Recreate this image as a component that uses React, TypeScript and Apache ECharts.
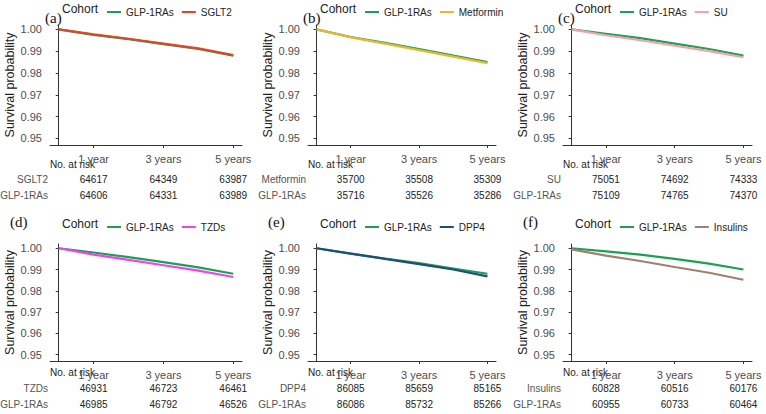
import React, { useEffect, useRef } from "react";
import * as echarts from "echarts";

const months = [0, 12, 24, 36, 48, 60];
const tickMonths = [12, 36, 60];
const tickLabels = ["1 year", "3 years", "5 years"];
const yTicks = [0.95, 0.96, 0.97, 0.98, 0.99, 1.0];

const panelLabels = ["(a)", "(b)", "(c)", "(d)", "(e)", "(f)"];
const comparators = ["SGLT2", "Metformin", "SU", "TZDs", "DPP4", "Insulins"];
const compColors = ["#e0452c", "#e8b830", "#f4a0b0", "#ee44ee", "#1f4e79", "#a08070"];
const glpColor = "#1f9e55";

const glpCurves = [
  [1, 0.9975, 0.9955, 0.9932, 0.991, 0.988],
  [1, 0.9965, 0.9938, 0.991, 0.988, 0.985],
  [1, 0.998, 0.996, 0.9935, 0.991, 0.988],
  [1, 0.998, 0.9958, 0.9935, 0.991, 0.988],
  [1, 0.9975, 0.9952, 0.993, 0.9905, 0.988],
  [1, 0.9985, 0.997, 0.995, 0.9928, 0.99],
];
const compCurves = [
  [1, 0.9977, 0.9957, 0.9935, 0.9913, 0.9882],
  [1, 0.9963, 0.9935, 0.9905, 0.9875, 0.9845],
  [1, 0.9973, 0.995, 0.9925, 0.99, 0.9872],
  [1, 0.997, 0.9945, 0.992, 0.9895, 0.9865],
  [1, 0.9975, 0.995, 0.9925, 0.99, 0.9868],
  [0.9995, 0.9965, 0.994, 0.9912, 0.9885, 0.9852],
];
const compRisk = [
  [64617, 64349, 63987],
  [35700, 35508, 35309],
  [75051, 74692, 74333],
  [46931, 46723, 46461],
  [86085, 85659, 85165],
  [60828, 60516, 60176],
];
const glpRisk = [
  [64606, 64331, 63989],
  [35716, 35526, 35286],
  [75109, 74765, 74370],
  [46985, 46792, 46526],
  [86086, 85732, 85266],
  [60955, 60733, 60464],
];

const colLeft = [50, 308, 563];
const colWidth = [192, 188, 189];
const rowTop = [25, 244];
const rowHeight = [120, 117];
const legendY = [2, 217];
const riskY = [[164, 179, 195], [372, 388, 404]];

export default function App() {
  const ref = useRef<HTMLDivElement>(null);
  useEffect(() => {
    const chart = echarts.init(ref.current!, null, { renderer: "svg" });
    const grids: any[] = [], xAxes: any[] = [], yAxes: any[] = [], series: any[] = [], legends: any[] = [];
    const graphics: any[] = [];
    for (let i = 0; i < 6; i++) {
      const r = Math.floor(i / 3), c = i % 3;
      grids.push({ left: colLeft[c], top: rowTop[r], width: colWidth[c], height: rowHeight[r] });
      xAxes.push({
        type: "value", gridIndex: i, min: -3, max: 63,
        axisLine: { show: true, lineStyle: { color: "#333", width: 1 } },
        axisTick: { show: true, customValues: tickMonths, length: 3, lineStyle: { color: "#333" } },
        axisLabel: { customValues: tickMonths, formatter: (v: number) => tickLabels[tickMonths.indexOf(v)] ?? "", color: "#4d4d4d", fontSize: 11, fontFamily: "Liberation Sans" },
        splitLine: { show: false },
      });
      yAxes.push({
        type: "value", gridIndex: i, min: 0.947, max: 1.002,
        name: "Survival probability", nameLocation: "middle", nameGap: 30,
        nameTextStyle: { fontSize: 12.5, color: "#222", fontFamily: "Liberation Sans" },
        axisLine: { show: true, lineStyle: { color: "#333", width: 1 } },
        axisTick: { show: true, customValues: yTicks, length: 3, lineStyle: { color: "#333" } },
        axisLabel: { customValues: yTicks, formatter: (v: number) => v.toFixed(2), color: "#4d4d4d", fontSize: 11, fontFamily: "Liberation Sans" },
        splitLine: { show: false },
      });
      const mk = (name: string, data: number[], color: string) => ({
        type: "line", name, xAxisIndex: i, yAxisIndex: i, showSymbol: false, smooth: false,
        data: months.map((m, k) => [m, data[k]]), lineStyle: { color, width: 2.2 }, itemStyle: { color },
      });
      series.push(mk("GLP-1RAs", glpCurves[i], glpColor));
      series.push(mk(comparators[i], compCurves[i], compColors[i]));
      legends.push({
        data: ["GLP-1RAs", comparators[i]], top: legendY[r], left: colLeft[c] + 52, width: 220,
        itemWidth: 14, itemHeight: 10, itemGap: 8, icon: "path://M0,4h14v2h-14z",
        textStyle: { fontSize: 10, color: "#222", fontFamily: "Liberation Sans" },
      });
      graphics.push({ type: "text", left: colLeft[c] + 12, top: legendY[r] + 1, style: { text: "Cohort", fontSize: 12, fill: "#222", fontFamily: "Liberation Sans" } });
      const lx = r === 0 ? colLeft[c] - 5 : colLeft[c] - 40;
      const ly = r === 0 ? 10 : 214;
      graphics.push({ type: "text", left: lx, top: ly, style: { text: panelLabels[i], fontSize: 15, fill: "#111", fontFamily: "Liberation Serif" } });
    }
    chart.setOption({ animation: false, grid: grids, xAxis: xAxes, yAxis: yAxes, series, legend: legends } as any);
    for (let i = 0; i < 6; i++) {
      const r = Math.floor(i / 3), c = i % 3;
      const ys = riskY[r];
      const ts = { fontSize: 10, fill: "#222", fontFamily: "Liberation Sans" };
      graphics.push({ type: "text", x: colLeft[c], y: ys[0], style: { ...ts, text: "No. at risk", textVerticalAlign: "middle" } });
      graphics.push({ type: "text", x: colLeft[c] - 2, y: ys[1], style: { ...ts, fill: "#555", text: comparators[i], textAlign: "right", textVerticalAlign: "middle" } });
      graphics.push({ type: "text", x: colLeft[c] - 2, y: ys[2], style: { ...ts, fill: "#555", text: "GLP-1RAs", textAlign: "right", textVerticalAlign: "middle" } });
      tickMonths.forEach((m, k) => {
        const px = chart.convertToPixel({ xAxisIndex: i } as any, m) as number;
        graphics.push({ type: "text", x: px, y: ys[1], style: { ...ts, text: String(compRisk[i][k]), textAlign: "center", textVerticalAlign: "middle" } });
        graphics.push({ type: "text", x: px, y: ys[2], style: { ...ts, text: String(glpRisk[i][k]), textAlign: "center", textVerticalAlign: "middle" } });
      });
    }
    chart.setOption({ graphic: graphics } as any);
    return () => chart.dispose();
  }, []);
  return <div ref={ref} style={{ position: "absolute", left: 0, top: 0, width: 766, height: 414 }} />;
}
